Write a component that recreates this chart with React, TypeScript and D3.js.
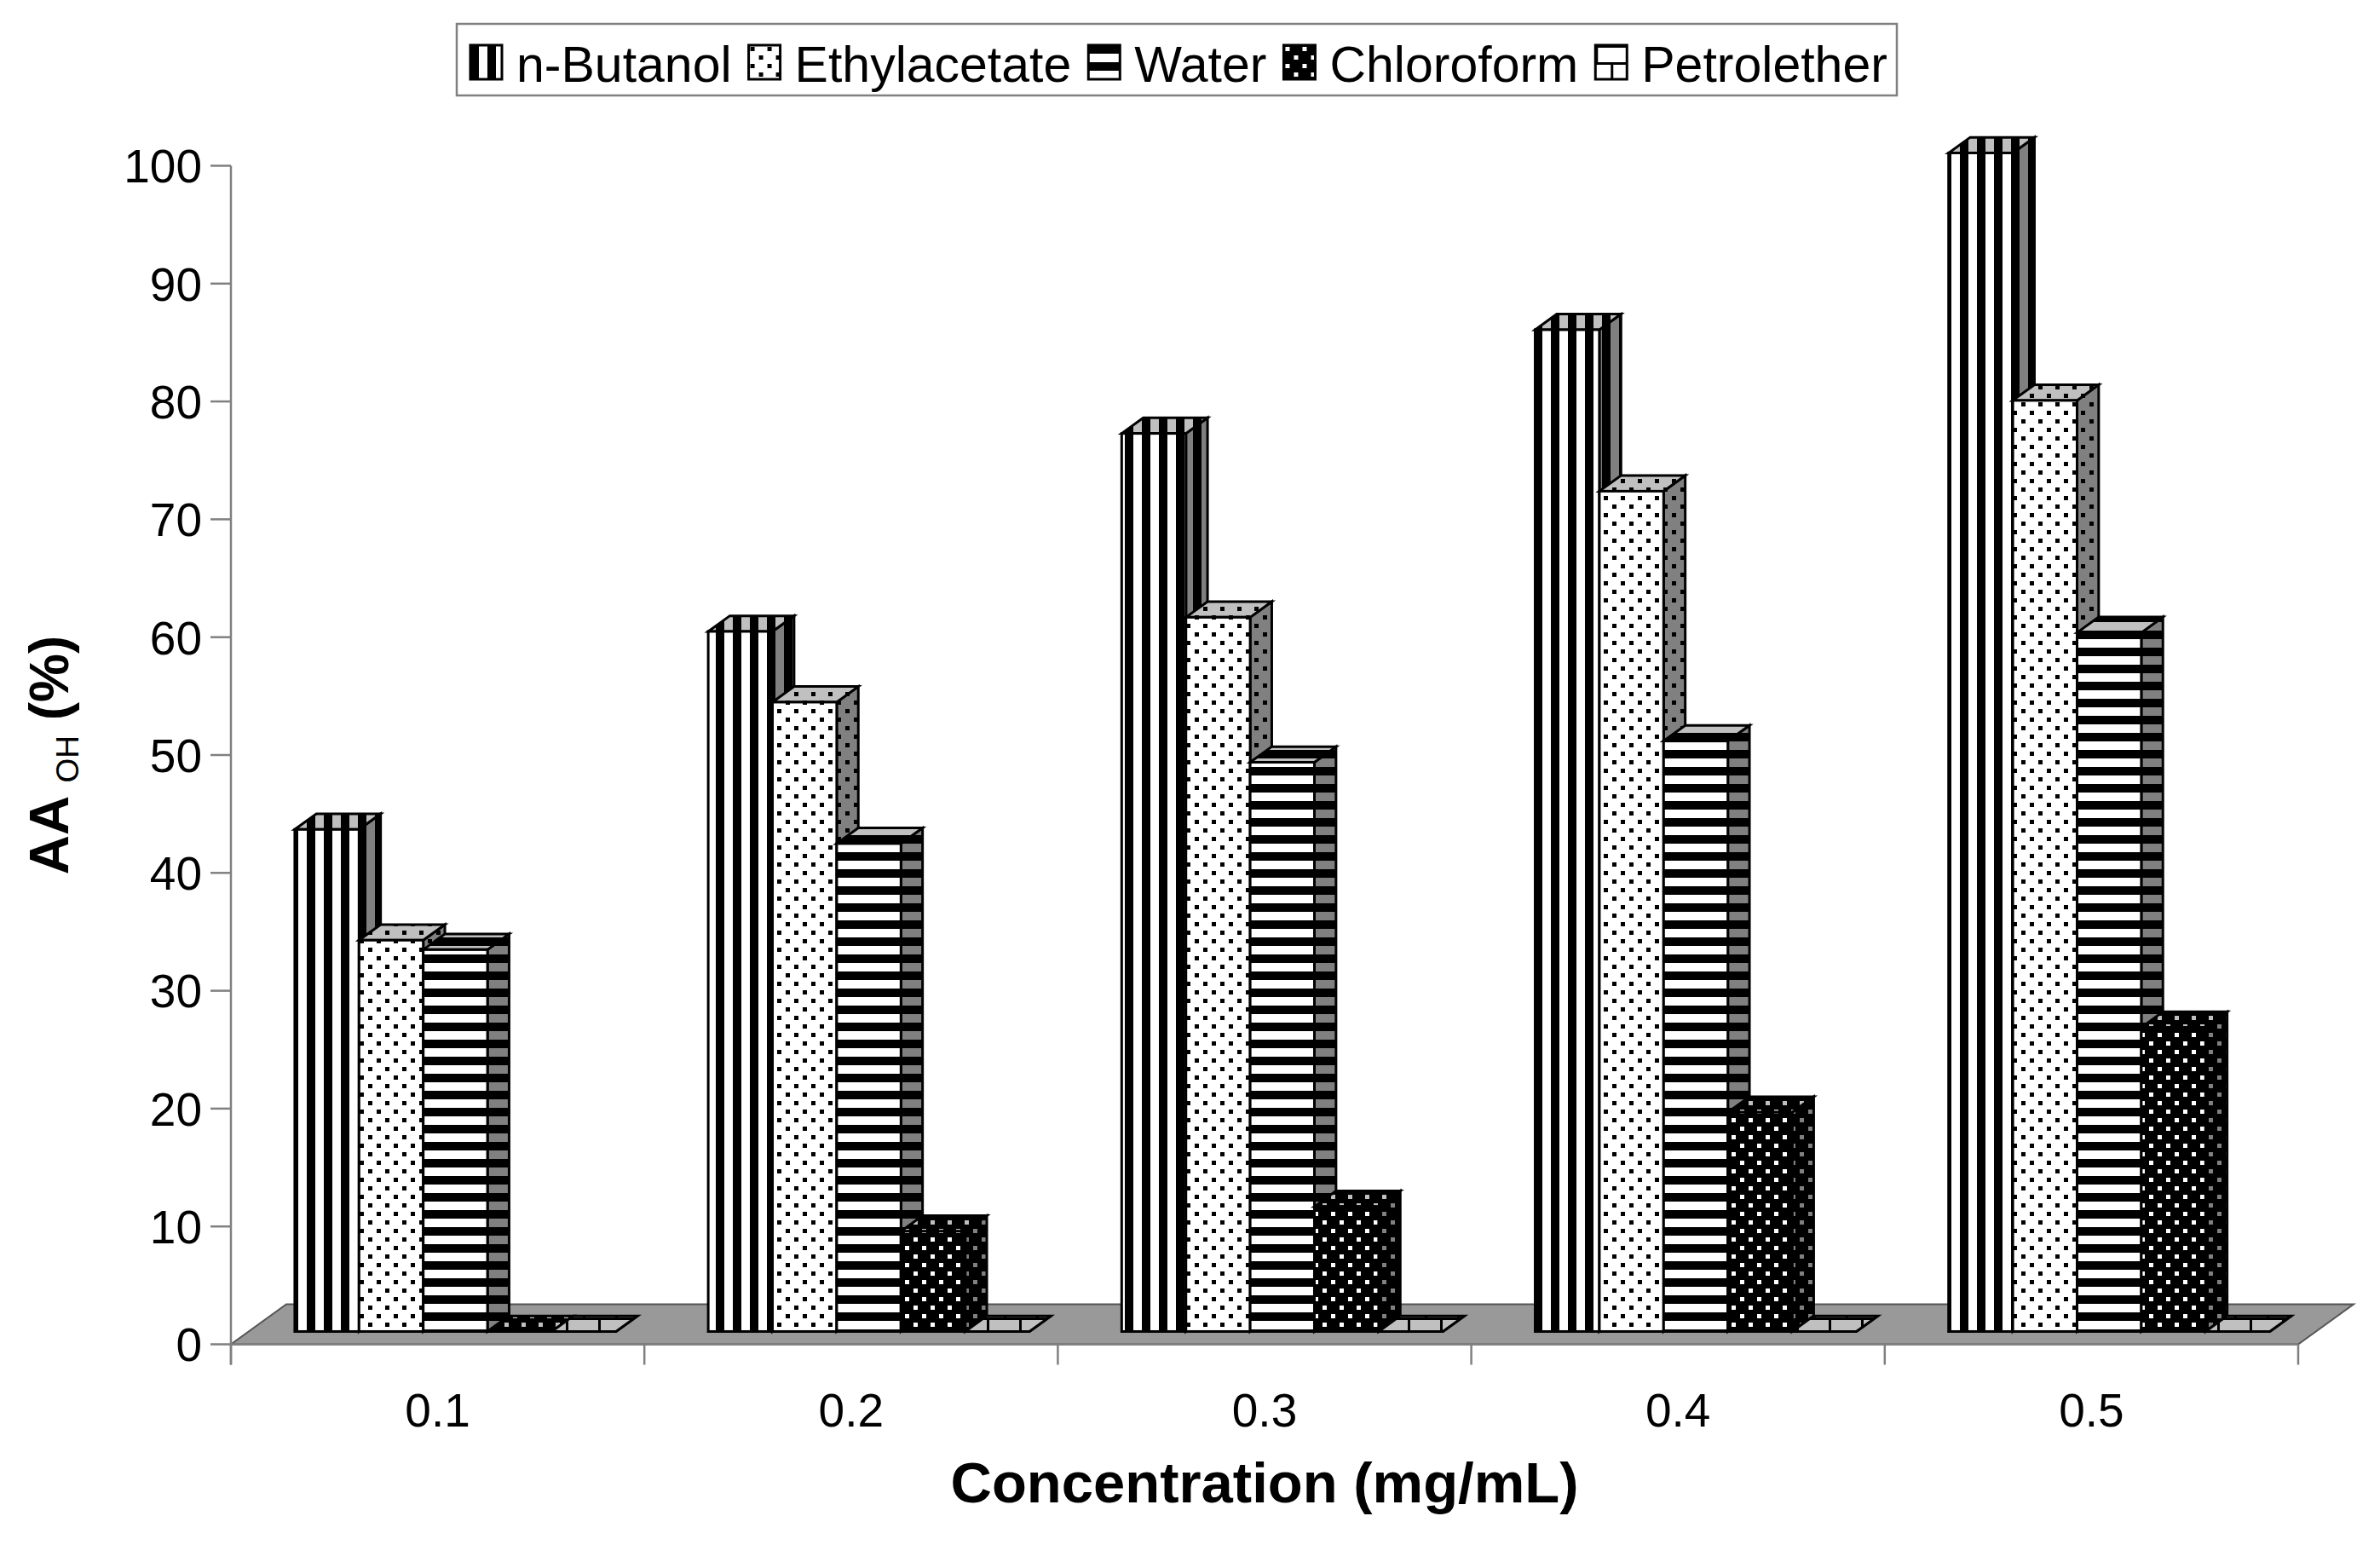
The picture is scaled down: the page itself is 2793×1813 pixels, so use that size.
import React, { useEffect, useRef } from "react";
import { scaleBand, scaleLinear, select } from "d3";

// concentrations (mg/mL) on the x axis
const concentrations = ["0.1", "0.2", "0.3", "0.4", "0.5"];
const solvents = ["n-Butanol", "Ethylacetate", "Water", "Chloroform", "Petrolether"];

// AA OH (%) per concentration
const nButanol = [42.6, 59.4, 76.2, 85.0, 100.0];
const ethylacetate = [33.2, 53.4, 60.6, 71.3, 79.0];
const water = [32.4, 41.4, 48.3, 50.1, 59.3];
const chloroform = [0, 8.5, 10.6, 18.6, 25.8];
const petrolether = [0, 0, 0, 0, 0];

const seriesValues = [nButanol, ethylacetate, water, chloroform, petrolether];
const seriesPattern = ["vstripe", "dots", "hstripe", "dotsInv", "brick"];
const yTickValues = [0, 10, 20, 30, 40, 50, 60, 70, 80, 90, 100];

const W = 2793;
const H = 1813;
const plot = { left: 271, right: 2697, top: 194.5, bottom: 1577.5 };
const floorDepth = { dx: 65, dy: -47 };
const barFront = 0.32;
const barDepth = 0.39;
const FONT = "'Liberation Sans', Arial, sans-serif";

const shades = { front: "#ffffff", top: "#c0c0c0", side: "#808080" };

// one fill pattern, drawn in screen space (like the old Excel hatch fills)
function addPattern(defs, id, kind, shade, origin = [0, 0]) {
  const inv = kind === "dotsInv";
  const bg = inv ? "#000" : shade;
  const fg = inv ? shade : "#000";
  const w = kind === "brick" ? 38 : 20;
  const h = kind === "brick" ? 40 : 20;
  const p = defs
    .append("pattern")
    .attr("id", id)
    .attr("patternUnits", "userSpaceOnUse")
    .attr("patternTransform", `translate(${origin[0]},${origin[1]})`)
    .attr("width", w)
    .attr("height", h);
  p.append("rect").attr("width", w).attr("height", h).attr("fill", bg);
  const r = (x, y, rw, rh) =>
    p.append("rect").attr("x", x).attr("y", y).attr("width", rw).attr("height", rh).attr("fill", fg);
  if (kind === "vstripe") r(0, 0, 10, 20);
  if (kind === "hstripe") r(0, 0, 20, 10);
  if (kind === "dots" || kind === "dotsInv") {
    r(2, 2, 5, 5);
    r(12, 12, 5, 5);
  }
  if (kind === "brick") {
    r(0, 0, 38, 3);
    r(0, 20, 38, 3);
    r(0, 0, 3, 20);
    r(18, 20, 3, 20);
  }
}

export default function App() {
  const svgRef = useRef<SVGSVGElement>(null);

  useEffect(() => {
    const svg = select(svgRef.current);
    svg.selectAll("*").remove();

    const defs = svg.append("defs");
    seriesPattern.forEach((kind, s) => {
      Object.entries(shades).forEach(([face, shade]) => {
        addPattern(defs, `p${s}-${face}`, kind, shade, kind === "brick" ? [0, 6] : [0, 0]);
      });
    });

    const x = scaleBand().domain(concentrations).range([plot.left, plot.right]);
    const xs = scaleBand()
      .domain(solvents)
      .range([0, x.bandwidth()])
      .paddingOuter(0.718);
    const y = scaleLinear().domain([0, 100]).range([plot.bottom, plot.top]);

    // floor
    const fx = floorDepth.dx;
    const fy = floorDepth.dy;
    svg
      .append("polygon")
      .attr(
        "points",
        [
          [plot.left, y(0)],
          [plot.right, y(0)],
          [plot.right + fx, y(0) + fy],
          [plot.left + fx, y(0) + fy],
        ].join(" ")
      )
      .attr("fill", "#999999")
      .attr("stroke", "#555")
      .attr("stroke-width", 2);

    // axes
    const axisColor = "#808080";
    svg
      .append("line")
      .attr("x1", plot.left)
      .attr("x2", plot.left)
      .attr("y1", y(100))
      .attr("y2", y(0) + 24)
      .attr("stroke", axisColor)
      .attr("stroke-width", 2.5);
    svg
      .append("line")
      .attr("x1", plot.left)
      .attr("x2", plot.right)
      .attr("y1", y(0))
      .attr("y2", y(0))
      .attr("stroke", axisColor)
      .attr("stroke-width", 2.5);

    const yAxis = svg.append("g");
    yTickValues.forEach((t) => {
      yAxis
        .append("line")
        .attr("x1", plot.left - 24)
        .attr("x2", plot.left)
        .attr("y1", y(t))
        .attr("y2", y(t))
        .attr("stroke", axisColor)
        .attr("stroke-width", 2.5);
      yAxis
        .append("text")
        .attr("x", plot.left - 34)
        .attr("y", y(t))
        .attr("dy", "0.36em")
        .attr("text-anchor", "end")
        .attr("font-family", FONT)
        .attr("font-size", 55)
        .text(t);
    });

    const xAxis = svg.append("g");
    [...concentrations.map((c) => x(c)), plot.right].forEach((xv) => {
      xAxis
        .append("line")
        .attr("x1", xv)
        .attr("x2", xv)
        .attr("y1", y(0))
        .attr("y2", y(0) + 24)
        .attr("stroke", axisColor)
        .attr("stroke-width", 2.5);
    });
    concentrations.forEach((c) => {
      xAxis
        .append("text")
        .attr("x", x(c) + x.bandwidth() / 2)
        .attr("y", 1674)
        .attr("text-anchor", "middle")
        .attr("font-family", FONT)
        .attr("font-size", 55)
        .text(c);
    });

    // bars: side, top, then front, left to right so neighbours overlap correctly
    const fdx = barFront * fx;
    const fdy = barFront * fy;
    const bdx = barDepth * fx;
    const bdy = barDepth * fy;
    const bars = svg.append("g").attr("stroke", "#000").attr("stroke-width", 3);
    concentrations.forEach((c, i) => {
      solvents.forEach((sv, s) => {
        const v = seriesValues[s][i];
        const x0 = x(c) + xs(sv) + fdx;
        const x1 = x0 + xs.bandwidth();
        const yb = y(0) + fdy;
        const yt = y(v) + fdy;
        bars
          .append("polygon")
          .attr(
            "points",
            [
              [x1, yt],
              [x1 + bdx, yt + bdy],
              [x1 + bdx, yb + bdy],
              [x1, yb],
            ].join(" ")
          )
          .attr("fill", `url(#p${s}-side)`);
        bars
          .append("polygon")
          .attr(
            "points",
            [
              [x0, yt],
              [x0 + bdx, yt + bdy],
              [x1 + bdx, yt + bdy],
              [x1, yt],
            ].join(" ")
          )
          .attr("fill", `url(#p${s}-top)`);
        if (v > 0) {
          bars
            .append("rect")
            .attr("x", x0)
            .attr("y", yt)
            .attr("width", x1 - x0)
            .attr("height", yb - yt)
            .attr("fill", `url(#p${s}-front)`);
        }
      });
    });

    // axis titles
    const yTitle = svg
      .append("text")
      .attr("transform", "translate(80,886) rotate(-90)")
      .attr("text-anchor", "middle")
      .attr("font-family", FONT)
      .attr("font-size", 64)
      .attr("font-weight", "bold");
    yTitle.append("tspan").text("AA ");
    yTitle
      .append("tspan")
      .attr("font-size", 37)
      .attr("font-weight", "normal")
      .attr("dy", 12)
      .text("OH");
    yTitle.append("tspan").attr("dy", -12).text(" (%)");

    svg
      .append("text")
      .attr("x", (plot.left + plot.right) / 2)
      .attr("y", 1763)
      .attr("text-anchor", "middle")
      .attr("font-family", FONT)
      .attr("font-size", 67)
      .attr("font-weight", "bold")
      .text("Concentration (mg/mL)");

    // legend
    const legend = svg.append("g");
    legend
      .append("rect")
      .attr("x", 536)
      .attr("y", 28)
      .attr("width", 1690)
      .attr("height", 84)
      .attr("fill", "#fff")
      .attr("stroke", axisColor)
      .attr("stroke-width", 2.5);
    let lx = 552;
    const iconY = 53;
    solvents.forEach((sv, s) => {
      addPattern(defs, `l${s}`, seriesPattern[s], "#ffffff", [lx, iconY]);
      legend
        .append("rect")
        .attr("x", lx)
        .attr("y", iconY)
        .attr("width", 37)
        .attr("height", 40)
        .attr("fill", `url(#l${s})`)
        .attr("stroke", "#000")
        .attr("stroke-width", 3);
      const t = legend
        .append("text")
        .attr("x", lx + 54)
        .attr("y", 96)
        .attr("font-family", FONT)
        .attr("font-size", 59)
        .text(sv);
      const len = (t.node() as SVGTextElement).getComputedTextLength();
      lx = lx + 54 + len + 20;
    });
  }, []);

  return (
    <div style={{ position: "absolute", left: 0, top: 0, background: "#fff" }}>
      <svg ref={svgRef} width={W} height={H} style={{ display: "block" }} />
    </div>
  );
}
